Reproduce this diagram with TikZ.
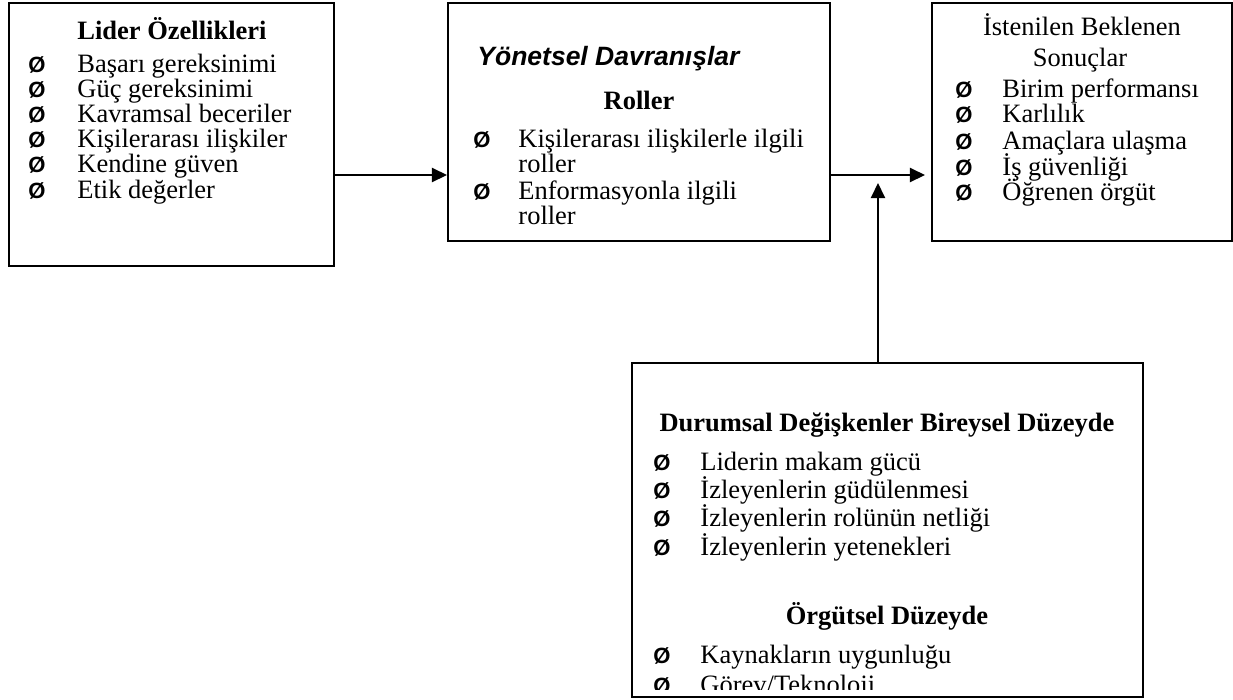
\documentclass[tikz,border=0pt]{standalone}
\usepackage{fontspec}
\setmainfont{Liberation Serif}
\newfontfamily\arialf{Liberation Sans}
\usetikzlibrary{arrows.meta,fit}
\begin{document}
\begin{tikzpicture}[x=0.453pt,y=-0.453pt,
 box/.style={draw,line width=0.9pt,inner sep=0pt},
 arr/.style={line width=0.7pt,-{Triangle[length=6.8pt,width=6.4pt]}},
 txt/.style={anchor=base west,inner sep=0pt,font=\fontsize{12}{14}\selectfont},
 ttl/.style={anchor=base,inner sep=0pt,font=\bfseries\fontsize{12}{14}\selectfont},
 bul/.style={anchor=base west,inner sep=0pt,font=\arialf\bfseries\fontsize{10}{12}\selectfont}]
\fill[white] (0,0) rectangle (1233,699);
\useasboundingbox (0,0) rectangle (1233,699);
% boxes
\node[box,fit={(9,3)(334,266)}] (b1) {};
\node[box,fit={(448,3)(830,241)}] (b2) {};
\node[box,fit={(932,3)(1232,241)}] (b3) {};
\node[box,fit={(632,363)(1143,697)}] (b4) {};
% box 1
\node[ttl,anchor=base west] (t1) at (77,39) {Lider Özellikleri};
\node[bul] (u11) at (28,72) {Ø};  \node[txt] (l11) at (77,72) {Başarı gereksinimi};
\node[bul] (u12) at (28,97) {Ø};  \node[txt] (l12) at (77,97) {Güç gereksinimi};
\node[bul] (u13) at (28,122) {Ø}; \node[txt] (l13) at (77,122) {Kavramsal beceriler};
\node[bul] (u14) at (28,147) {Ø}; \node[txt] (l14) at (77,147) {Kişilerarası ilişkiler};
\node[bul] (u15) at (28,172) {Ø}; \node[txt] (l15) at (77,172) {Kendine güven};
\node[bul] (u16) at (28,198) {Ø}; \node[txt] (l16) at (77,198) {Etik değerler};
% box 2
\node[anchor=base west,inner sep=0pt,font=\arialf\bfseries\itshape\fontsize{12}{14}\selectfont] (t2) at (477,65) {Yönetsel Davranışlar};
\node[ttl] (t2b) at (639,109) {Roller};
\node[bul] (u21) at (473,147) {Ø}; \node[txt] (l21) at (518,147) {Kişilerarası ilişkilerle ilgili};
\node[txt] (l21b) at (518,172) {roller};
\node[bul] (u22) at (473,199) {Ø}; \node[txt] (l22) at (518,199) {Enformasyonla ilgili};
\node[txt] (l22b) at (518,224) {roller};
% box 3
\node[anchor=base,inner sep=0pt,font=\fontsize{12}{14}\selectfont] (t3) at (1082,35) {İstenilen Beklenen};
\node[anchor=base,inner sep=0pt,font=\fontsize{12}{14}\selectfont] (t3b) at (1080,66) {Sonuçlar};
\node[bul] (u31) at (955,97) {Ø};  \node[txt] (l31) at (1002,97) {Birim performansı};
\node[bul] (u32) at (955,122) {Ø}; \node[txt] (l32) at (1002,122) {Karlılık};
\node[bul] (u33) at (955,149) {Ø}; \node[txt] (l33) at (1002,149) {Amaçlara ulaşma};
\node[bul] (u34) at (955,175) {Ø}; \node[txt] (l34) at (1002,175) {İş güvenliği};
\node[bul] (u35) at (955,200) {Ø}; \node[txt] (l35) at (1002,200) {Öğrenen örgüt};
% box 4
\node[ttl] (t4) at (887,431) {Durumsal Değişkenler Bireysel Düzeyde};
\node[bul] (u41) at (653,470) {Ø}; \node[txt] (l41) at (700,470) {Liderin makam gücü};
\node[bul] (u42) at (653,498) {Ø}; \node[txt] (l42) at (700,498) {İzleyenlerin güdülenmesi};
\node[bul] (u43) at (653,526) {Ø}; \node[txt] (l43) at (700,526) {İzleyenlerin rolünün netliği};
\node[bul] (u44) at (653,555) {Ø}; \node[txt] (l44) at (700,555) {İzleyenlerin yetenekleri};
\node[ttl] (t4b) at (887,624) {Örgütsel Düzeyde};
\node[bul] (u45) at (653,663) {Ø}; \node[txt] (l45) at (700,663) {Kaynakların uygunluğu};
\begin{scope}
\clip (632,363) rectangle (1143,689);
\node[bul] (u46) at (653,693) {Ø}; \node[txt] (l46) at (700,693) {Görev/Teknoloji};
\end{scope}
% connectors
\coordinate (ay) at (0,175);
\coordinate (tip2) at (925,175);
\coordinate (tip3) at (878,183);
\draw[arr] (b1.east |- ay) -- (b2.west |- ay);
\draw[arr] (b2.east |- ay) -- (tip2);
\draw[arr] (b4.north -| tip3) -- (tip3);
\end{tikzpicture}
\end{document}
